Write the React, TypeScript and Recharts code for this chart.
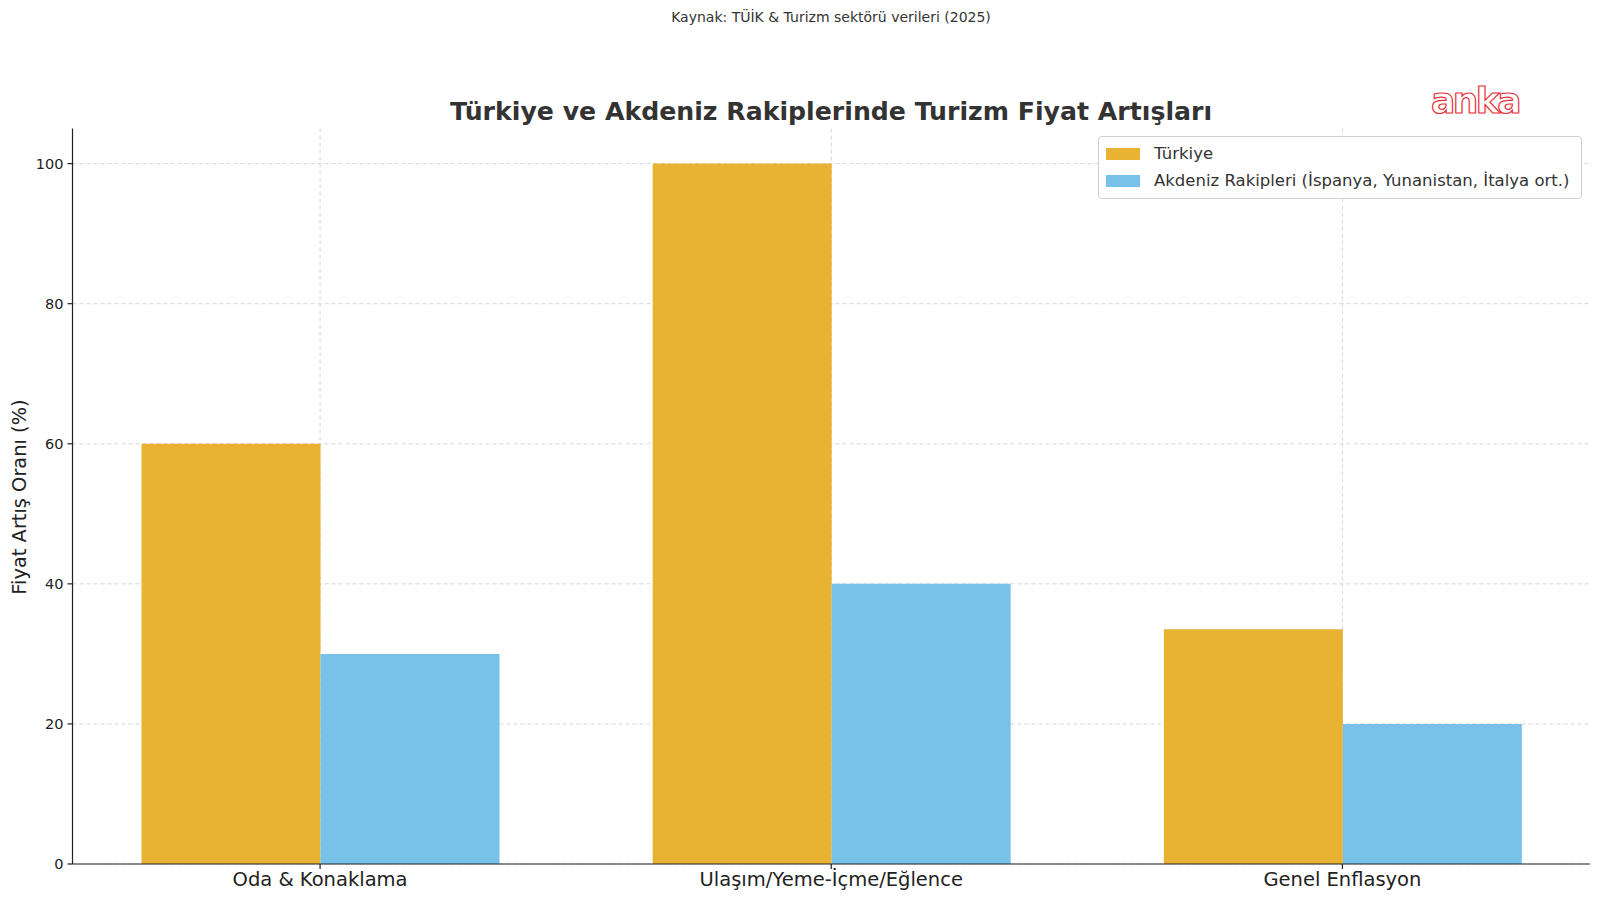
import { Bar, BarChart, CartesianGrid, XAxis, YAxis } from "recharts";

const categories = ["Oda & Konaklama", "Ulaşım/Yeme-İçme/Eğlence", "Genel Enflasyon"];
const turkiye = [60, 100, 33.5];
const rakipler = [30, 40, 20];
const yTicks = [0, 20, 40, 60, 80, 100];

const TR_COLOR = "#E8B233";
const MED_COLOR = "#78C2EA";
const FONT = "'DejaVu Sans', sans-serif";

const data = categories.map((name, i) => ({
  name,
  turkiye: turkiye[i],
  rakipler: rakipler[i]
}));

function LegendBox() {
  const rows = [
    { label: "Türkiye", color: TR_COLOR },
    { label: "Akdeniz Rakipleri (İspanya, Yunanistan, İtalya ort.)", color: MED_COLOR }
  ];
  return (
    <div
      style={{
        position: "absolute",
        left: 1098,
        top: 136,
        width: 484,
        background: "rgba(255,255,255,0.92)",
        border: "1px solid #d0d0d0",
        borderRadius: 4,
        padding: "3px 7px 4px 7px",
        fontFamily: FONT,
        fontSize: 16.5,
        color: "#333",
        boxSizing: "border-box",
        whiteSpace: "nowrap"
      }}
    >
      {rows.map((r) => (
        <div key={r.label} style={{ display: "flex", alignItems: "center", height: 27 }}>
          <span style={{ width: 34, height: 12, background: r.color, marginRight: 14, flex: "none" }} />
          <span>{r.label}</span>
        </div>
      ))}
    </div>
  );
}

export default function App() {
  return (
    <div style={{ position: "absolute", left: 0, top: 0, width: 1600, height: 901, background: "#fff" }}>
      <div
        style={{
          position: "absolute",
          top: 9,
          left: 0,
          width: 1662,
          textAlign: "center",
          fontFamily: FONT,
          fontSize: 14,
          color: "#333"
        }}
      >
        Kaynak: TÜİK &amp; Turizm sektörü verileri (2025)
      </div>
      <div
        style={{
          position: "absolute",
          top: 97,
          left: 0,
          width: 1662,
          textAlign: "center",
          fontFamily: FONT,
          fontWeight: "bold",
          fontSize: 25.2,
          color: "#333"
        }}
      >
        Türkiye ve Akdeniz Rakiplerinde Turizm Fiyat Artışları
      </div>
      <svg style={{ position: "absolute", left: 1425, top: 78 }} width={100} height={45}>
        <text
          x={50}
          y={35}
          textAnchor="middle"
          fontFamily="'DejaVu Sans', sans-serif"
          fontWeight="bold"
          fontSize={36}
          letterSpacing={-2.5}
          fill="#fff"
          stroke="#E8303A"
          strokeWidth={1.2}
        >
          anka
        </text>
      </svg>
      <div
        style={{
          position: "absolute",
          left: 19,
          top: 497,
          transform: "translate(-50%, -50%) rotate(-90deg)",
          whiteSpace: "nowrap",
          fontFamily: FONT,
          fontSize: 19.4,
          color: "#222"
        }}
      >
        Fiyat Artış Oranı (%)
      </div>
      <BarChart
        width={1600}
        height={901}
        data={data}
        margin={{ top: 128.6, right: 10, left: 12.5, bottom: 0 }}
        barGap={0}
        barCategoryGap={77}
      >
        <CartesianGrid
          stroke="#cccccc"
          strokeDasharray="4 3"
          strokeWidth={0.8}
          horizontalValues={yTicks}
          verticalValues={categories}
        />
        <XAxis
          dataKey="name"
          height={37}
          padding={{ left: -8, right: -8 }}
          stroke="#222"
          strokeWidth={1.2}
          tickSize={5}
          tickMargin={3}
          tick={{ fontSize: 19.5, fill: "#222", fontFamily: FONT }}
          interval={0}
        />
        <YAxis
          width={60}
          domain={[0, 105]}
          ticks={yTicks}
          stroke="#222"
          strokeWidth={1.2}
          tickSize={5}
          tickMargin={4}
          tick={{ fontSize: 14.5, fill: "#222", fontFamily: FONT }}
        />
        <Bar dataKey="turkiye" name="Türkiye" fill={TR_COLOR} isAnimationActive={false} />
        <Bar
          dataKey="rakipler"
          name="Akdeniz Rakipleri (İspanya, Yunanistan, İtalya ort.)"
          fill={MED_COLOR}
          isAnimationActive={false}
        />
      </BarChart>
      <LegendBox />
    </div>
  );
}
